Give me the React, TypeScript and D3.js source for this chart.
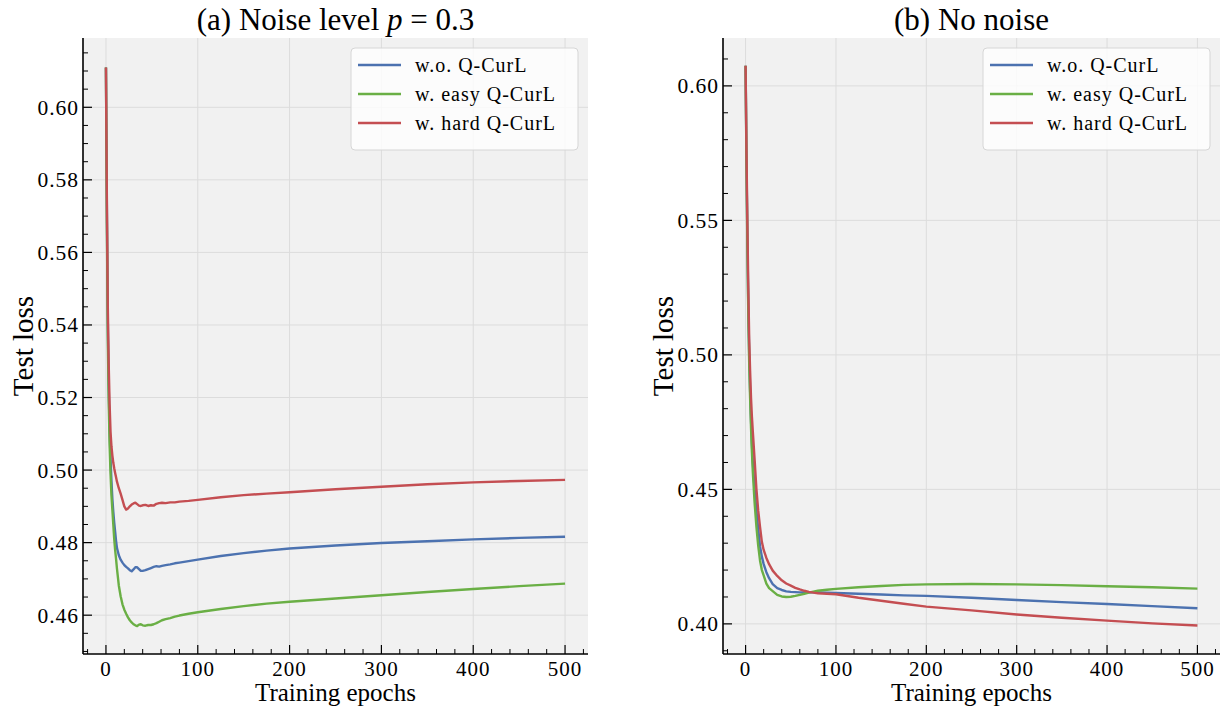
import React from "react";
import * as d3 from "d3";

// ---------- Data ----------
const seriesNames = ["w.o. Q-CurL", "w. easy Q-CurL", "w. hard Q-CurL"];
const seriesColors = ["#4C72B0", "#6AAF45", "#C44E52"];

// Panel (a): noise level p = 0.3
const epochsA = [0,1,2,3,4,5,6,7,8,9,10,11,12,14,16,18,20,22,24,26,28,30,32,34,36,38,40,43,46,49,52,55,58,61,65,70,75,80,90,100,125,150,175,200,250,300,350,400,450,500];
const woA = [0.611,0.572,0.541,0.523,0.511,0.503,0.497,0.492,0.4885,0.4855,0.4830,0.4805,0.4785,0.4765,0.4753,0.4745,0.4738,0.4733,0.4729,0.4724,0.4721,0.4726,0.4732,0.4732,0.4727,0.4722,0.4722,0.4724,0.4727,0.4730,0.4733,0.4735,0.4734,0.4736,0.4738,0.4740,0.4743,0.4745,0.4749,0.4753,0.4763,0.4771,0.4778,0.4784,0.4792,0.4799,0.4804,0.4809,0.4813,0.4816];
const easyA = [0.611,0.568,0.537,0.519,0.507,0.499,0.493,0.489,0.485,0.481,0.478,0.4755,0.4728,0.4682,0.4652,0.4630,0.4615,0.4604,0.4594,0.4586,0.4580,0.4575,0.4572,0.4570,0.4574,0.4575,0.4572,0.4571,0.4573,0.4573,0.4575,0.4578,0.4582,0.4586,0.4589,0.4592,0.4596,0.4599,0.4604,0.4608,0.4617,0.4625,0.4632,0.4637,0.4646,0.4655,0.4664,0.4672,0.4680,0.4687];
const hardA = [0.611,0.575,0.545,0.529,0.518,0.5105,0.5065,0.504,0.502,0.5005,0.4992,0.4980,0.4968,0.4950,0.4935,0.4918,0.4900,0.4891,0.4894,0.4900,0.4905,0.4908,0.4910,0.4906,0.4902,0.4901,0.4903,0.4904,0.4901,0.4903,0.4902,0.4907,0.4909,0.4910,0.4909,0.4911,0.4911,0.4913,0.4915,0.4918,0.4925,0.4931,0.4935,0.4939,0.4947,0.4954,0.4961,0.4966,0.4970,0.4973];

// Panel (b): no noise
const epochsB = [0,1,2,3,4,5,6,7,8,10,12,14,16,18,20,23,26,30,35,40,45,50,55,60,65,70,75,80,90,100,125,150,175,200,250,300,350,400,450,500];
const woB = [0.6075,0.572,0.543,0.518,0.500,0.487,0.476,0.467,0.4600,0.4500,0.4420,0.4350,0.4288,0.4250,0.4222,0.4192,0.4170,0.4148,0.4133,0.4126,0.4121,0.4119,0.4118,0.4117,0.4117,0.4117,0.4117,0.4117,0.4116,0.4115,0.4112,0.4109,0.4106,0.4104,0.4097,0.4089,0.4081,0.4074,0.4066,0.4058];
const easyB = [0.6075,0.570,0.540,0.515,0.497,0.484,0.473,0.464,0.4565,0.4450,0.4360,0.4290,0.4235,0.4200,0.4180,0.4150,0.4133,0.4122,0.4108,0.4102,0.4100,0.4101,0.4104,0.4108,0.4112,0.4116,0.4120,0.4123,0.4127,0.4130,0.4136,0.4141,0.4145,0.4147,0.4148,0.4147,0.4144,0.4140,0.4136,0.4131];
const hardB = [0.6075,0.575,0.548,0.525,0.506,0.494,0.484,0.477,0.4715,0.4610,0.4500,0.4420,0.4360,0.4305,0.4275,0.4245,0.4222,0.4198,0.4178,0.4162,0.4150,0.4142,0.4134,0.4128,0.4123,0.4119,0.4116,0.4114,0.4112,0.4110,0.4097,0.4086,0.4075,0.4064,0.4050,0.4035,0.4023,0.4012,0.4002,0.3994];

const xTicks = [0, 100, 200, 300, 400, 500];
const yTicksA = [0.46, 0.48, 0.5, 0.52, 0.54, 0.56, 0.58, 0.6];
const yTicksB = [0.4, 0.45, 0.5, 0.55, 0.6];

const SERIF = "Liberation Serif, Times New Roman, serif";

type PanelProps = {
  left: number; right: number; top: number; bottom: number;
  xDomain: [number, number]; yDomain: [number, number];
  epochs: number[]; series: number[][];
  yTicks: number[]; yMinorStep: number;
  title: React.ReactNode;
};

function Panel(p: PanelProps) {
  const x = d3.scaleLinear().domain(p.xDomain).range([p.left, p.right]);
  const y = d3.scaleLinear().domain(p.yDomain).range([p.bottom, p.top]);
  const line = (vals: number[]) =>
    d3.line<number>().x((_, i) => x(p.epochs[i])).y((v) => y(v))(vals) || "";

  const xMinor = d3.range(-20, 521, 20).filter((v) => v >= p.xDomain[0] && v <= p.xDomain[1] && v % 100 !== 0);
  const yMinor: number[] = [];
  const start = Math.ceil(p.yDomain[0] / p.yMinorStep - 1e-9);
  for (let k = start; k * p.yMinorStep <= p.yDomain[1] + 1e-9; k++) {
    const v = +(k * p.yMinorStep).toFixed(4);
    if (!p.yTicks.some((t) => Math.abs(t - v) < 1e-6)) yMinor.push(v);
  }
  const yFmt = d3.format(".2f");
  const majorLen = 9, minorLen = 5;
  const legX = p.right - 237, legY = p.top + 10;

  return (
    <g>
      <rect x={p.left} y={p.top} width={p.right - p.left} height={p.bottom - p.top} fill="#f1f1f1" />
      {xTicks.map((t) => (
        <line key={"gx" + t} x1={x(t)} x2={x(t)} y1={p.top} y2={p.bottom} stroke="#dcdcdc" strokeWidth={1} />
      ))}
      {p.yTicks.map((t) => (
        <line key={"gy" + t} x1={p.left} x2={p.right} y1={y(t)} y2={y(t)} stroke="#dcdcdc" strokeWidth={1} />
      ))}
      {p.series.map((vals, i) => (
        <path key={"s" + i} d={line(vals)} fill="none" stroke={seriesColors[i]} strokeWidth={2.4} strokeLinejoin="round" />
      ))}
      {/* spines */}
      <line x1={p.left} x2={p.left} y1={p.top} y2={p.bottom} stroke="#000" strokeWidth={1.6} />
      <line x1={p.left} x2={p.right} y1={p.bottom} y2={p.bottom} stroke="#000" strokeWidth={1.6} />
      {/* x ticks */}
      {xTicks.map((t) => (
        <g key={"xt" + t}>
          <line x1={x(t)} x2={x(t)} y1={p.bottom} y2={p.bottom - majorLen} stroke="#000" strokeWidth={1.2} />
          <text x={x(t)} y={p.bottom + 22} textAnchor="middle" fontFamily={SERIF} fontSize={21} letterSpacing={1}>{t}</text>
        </g>
      ))}
      {xMinor.map((t) => (
        <line key={"xm" + t} x1={x(t)} x2={x(t)} y1={p.bottom} y2={p.bottom - minorLen} stroke="#000" strokeWidth={1} />
      ))}
      {/* y ticks */}
      {p.yTicks.map((t) => (
        <g key={"yt" + t}>
          <line x1={p.left} x2={p.left + majorLen} y1={y(t)} y2={y(t)} stroke="#000" strokeWidth={1.2} />
          <text x={p.left - 4} y={y(t)} dy="0.35em" textAnchor="end" fontFamily={SERIF} fontSize={21.5} letterSpacing={1}>{yFmt(t)}</text>
        </g>
      ))}
      {yMinor.map((t) => (
        <line key={"ym" + t} x1={p.left} x2={p.left + minorLen} y1={y(t)} y2={y(t)} stroke="#000" strokeWidth={1} />
      ))}
      {/* labels */}
      <text x={(p.left + p.right) / 2} y={701} textAnchor="middle" fontFamily={SERIF} fontSize={25}>Training epochs</text>
      <text transform={`translate(${p.left - 50},${(p.top + p.bottom) / 2}) rotate(-90)`} textAnchor="middle" fontFamily={SERIF} fontSize={29}>Test loss</text>
      <text x={(p.left + p.right) / 2} y={p.top - 8} textAnchor="middle" fontFamily={SERIF} fontSize={31}>{p.title}</text>
      {/* legend */}
      <rect x={legX} y={legY} width={227} height={102} rx={4} fill="#ffffff" fillOpacity={0.8} stroke="#d6d6d6" strokeWidth={1} />
      {seriesNames.map((n, i) => (
        <g key={"lg" + i}>
          <line x1={legX + 7} x2={legX + 50} y1={legY + 17 + i * 29} y2={legY + 17 + i * 29} stroke={seriesColors[i]} strokeWidth={2.4} />
          <text x={legX + 64} y={legY + 17 + i * 29} dy="0.35em" fontFamily={SERIF} fontSize={20} letterSpacing={1}>{n}</text>
        </g>
      ))}
    </g>
  );
}

export default function App() {
  return (
    <div style={{ position: "absolute", left: 0, top: 0 }}>
      <svg width={1224} height={706} style={{ display: "block", background: "#fff" }}>
        <Panel
          left={83} right={588} top={38} bottom={654}
          xDomain={[-25, 525]} yDomain={[0.4493, 0.6191]}
          epochs={epochsA} series={[woA, easyA, hardA]}
          yTicks={yTicksA} yMinorStep={0.005}
          title={<>(a) Noise level <tspan fontStyle="italic">p</tspan> = 0.3</>}
        />
        <Panel
          left={723} right={1220} top={38} bottom={654}
          xDomain={[-25, 525]} yDomain={[0.3888, 0.6178]}
          epochs={epochsB} series={[woB, easyB, hardB]}
          yTicks={yTicksB} yMinorStep={0.01}
          title={<>(b) No noise</>}
        />
      </svg>
    </div>
  );
}
